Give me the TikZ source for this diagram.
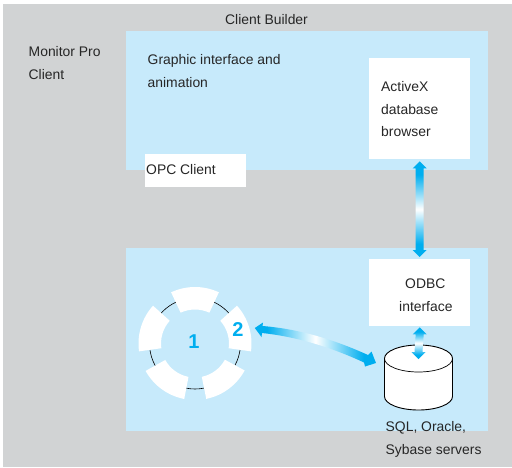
\documentclass[tikz,border=0pt]{standalone}
\usepackage{fontspec}
\setmainfont{Liberation Sans}
\usepackage{tikz}
\usetikzlibrary{calc}
\definecolor{backgrey}{RGB}{209,211,212}
\definecolor{panelblue}{RGB}{199,234,251}
\definecolor{linkblue}{RGB}{0,174,239}
\pgfdeclareverticalshading{linkv}{100bp}{color(0bp)=(linkblue); color(32bp)=(linkblue); color(50bp)=(white); color(68bp)=(linkblue); color(100bp)=(linkblue)}
\pgfdeclarehorizontalshading{linkh}{100bp}{color(0bp)=(linkblue); color(30bp)=(linkblue); color(50bp)=(white); color(70bp)=(linkblue); color(100bp)=(linkblue)}
\tikzset{l/.style={font=\fontsize{13.9}{22.8}\selectfont,text=black!85,inner sep=0pt,anchor=north west,align=left}}
\tikzset{panel/.style={fill=panelblue,inner sep=0pt,anchor=north west}}
\tikzset{whitebox/.style={fill=white,inner sep=0pt,anchor=north west}}
\tikzset{num/.style={font=\fontsize{20}{20}\selectfont\bfseries,text=linkblue,inner sep=0pt}}
% sector of the ring, centre angle as argument
\newcommand{\ringsector}[1]{
  \fill[white] (#1-25:34) arc (#1-25:#1+25:34) -- (#1+25:56.5)
    arc (#1+25:#1-25:56.5) -- cycle;
}
% double arrow between two points on a vertical, head half width 7
\newcommand{\vlink}[2]{
  \shade[shading=linkv] (#1) -- ++(7,7) -- ++(-3,0) -- ($(#2)+(4,-7)$) -- ++(3,0)
    -- (#2) -- ++(-7,-7) -- ++(3,0) -- ($(#1)+(-4,7)$) -- ++(-3,0) -- cycle;
}
\newcommand{\dbcyl}{
  \filldraw[fill=white,line width=.9pt] (-34,0) -- (-34,-38)
    arc (180:360:34 and 13.5) -- (34,0) arc (0:180:34 and 13.5);
  \draw[line width=.7pt] (-34,0) arc (180:360:34 and 13.5);
}
\begin{document}
\begin{tikzpicture}[x=1pt,y=-1pt]
    \useasboundingbox (0,0) rectangle (512,467);
    \fill[backgrey] (3,4) rectangle (512,467);
    \node[panel,minimum width=362pt,minimum height=139pt] (upper) at (126,31) {};
    \node[panel,minimum width=362pt,minimum height=183pt] (lower) at (126,248) {};
    \node[whitebox,minimum width=101pt,minimum height=101pt] (browser) at (369,58) {};
    \node[whitebox,minimum width=101pt,minimum height=33pt] (opc) at (145,154) {};
    \node[whitebox,minimum width=101pt,minimum height=67pt] (odbc) at (369,259) {};
    \node[l] (builder) at (225,14) {Client Builder};
    \node[l] (monitor) at (28.5,46) {Monitor Pro\\Client};
    \node[l] (graphic) at (147.5,54) {Graphic interface and\\animation};
    \node[l] (opctext) at (146,164) {OPC Client};
    \node[l] (activex) at (381,81) {ActiveX\\database\\browser};
    \node[l] (odbctext) at (399,279) {\hspace{6pt}ODBC\\interface};
    \node[l] (servers) at (385.5,421) {SQL, Oracle,\\Sybase servers};
    % ring of the client
    \begin{scope}[shift={(195,343.5)},yscale=-1]
      \draw[line width=.6pt] (0,0) circle (45.5);
      \foreach \a in {90,17,-53.5,-126,163} {
        \ringsector{\a}
      }
    \end{scope}
    \node[num] (one) at (194,342) {1};
    \node[num] (two) at (238,330) {2};
    % cylinder
    \begin{scope}[shift={(418.5,358.5)},yscale=-1]
      \dbcyl
    \end{scope}
    \coordinate (dbtop) at (418.5,359);
    \coordinate (dbside) at (376,363);
    % links
    \vlink{$(browser.south)+(0,2)$}{$(odbc.north)+(0,-2)$}
    \vlink{$(odbc.south)+(0,1)$}{dbtop}
    \shade[shading=linkh] ($(two.east)+(11,-2)$) -- (263,322.5) -- (262.5,326)
      .. controls (300,329) and (335,340) .. (368,355) -- (371.5,351.5)
      -- (dbside) -- (365,366.5) -- (364,362.5)
      .. controls (335,349) and (300,337) .. (262,333) -- (261.5,337) -- cycle;
\end{tikzpicture}
\end{document}
